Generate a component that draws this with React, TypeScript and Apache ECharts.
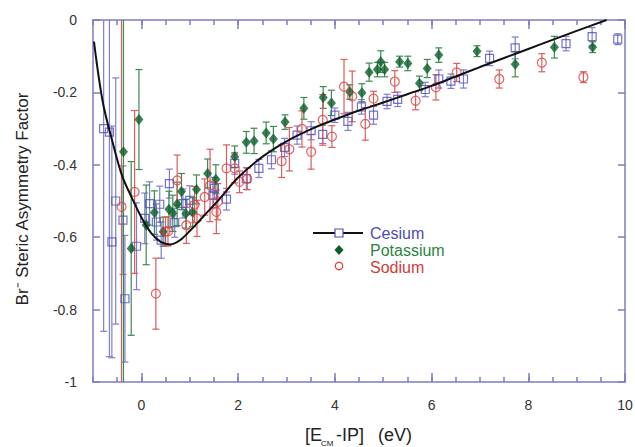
import React, { useEffect, useRef } from "react";
import * as echarts from "echarts";

// ---- data (x, y, error half-width) ----
const cesiumX = [-0.78, -0.66, -0.53, -0.61, -0.38, -0.34, -0.1, 0.07, 0.17, 0.31, 0.38, 0.41, 0.58, 0.69, 0.86, 1.0, 1.48, 1.51, 1.76, 1.93, 2.17, 2.43, 2.69, 2.96, 3.22, 3.51, 3.75, 4.0, 4.27, 4.55, 4.8, 5.08, 5.3, 5.87, 6.15, 6.4, 6.66, 7.2, 7.73, 8.78, 9.32, 9.85];
const cesiumY = [-0.3, -0.31, -0.5, -0.613, -0.553, -0.77, -0.625, -0.548, -0.507, -0.558, -0.509, -0.608, -0.452, -0.56, -0.507, -0.498, -0.484, -0.465, -0.495, -0.396, -0.438, -0.41, -0.386, -0.352, -0.318, -0.306, -0.316, -0.263, -0.28, -0.24, -0.263, -0.225, -0.219, -0.192, -0.163, -0.169, -0.163, -0.106, -0.077, -0.065, -0.046, -0.053];
const cesiumErr = [0.56, 0.62, 0.34, 0.32, 0.15, 0.175, 0.12, 0.07, 0.06, 0.05, 0.05, 0.05, 0.04, 0.04, 0.04, 0.04, 0.035, 0.03, 0.03, 0.03, 0.03, 0.025, 0.025, 0.025, 0.025, 0.025, 0.025, 0.02, 0.025, 0.02, 0.025, 0.02, 0.02, 0.02, 0.025, 0.02, 0.025, 0.02, 0.03, 0.02, 0.025, 0.015];

const potassiumX = [-0.37, -0.21, -0.05, 0.1, 0.27, 0.45, 0.57, 0.65, 0.74, 0.83, 0.92, 1.06, 1.14, 1.37, 1.54, 1.93, 2.17, 2.33, 2.58, 2.73, 2.97, 3.36, 3.76, 3.93, 4.31, 4.56, 4.71, 4.88, 4.95, 5.03, 5.34, 5.51, 5.75, 5.91, 6.15, 6.94, 7.73, 8.54, 9.33];
const potassiumY = [-0.364, -0.631, -0.275, -0.566, -0.532, -0.585, -0.523, -0.534, -0.508, -0.474, -0.535, -0.531, -0.468, -0.424, -0.44, -0.378, -0.338, -0.334, -0.312, -0.329, -0.282, -0.244, -0.214, -0.229, -0.199, -0.201, -0.144, -0.137, -0.115, -0.137, -0.115, -0.12, -0.175, -0.134, -0.097, -0.086, -0.122, -0.075, -0.075];
const potassiumErr = [0.66, 0.24, 0.138, 0.11, 0.06, 0.04, 0.05, 0.05, 0.06, 0.05, 0.04, 0.04, 0.04, 0.04, 0.04, 0.03, 0.03, 0.035, 0.03, 0.035, 0.02, 0.03, 0.03, 0.035, 0.02, 0.025, 0.025, 0.02, 0.03, 0.02, 0.015, 0.02, 0.02, 0.025, 0.02, 0.015, 0.035, 0.03, 0.015];

const sodiumX = [-0.41, -0.14, 0.3, 0.5, 0.55, 0.74, 0.93, 1.1, 1.15, 1.31, 1.42, 1.55, 1.58, 1.76, 1.93, 2.03, 2.19, 2.9, 3.06, 3.32, 3.51, 3.75, 3.94, 4.19, 4.36, 4.63, 4.8, 5.24, 5.67, 6.09, 6.52, 7.4, 8.28, 9.14];
const sodiumY = [-0.516, -0.475, -0.756, -0.584, -0.584, -0.443, -0.567, -0.51, -0.548, -0.489, -0.457, -0.53, -0.502, -0.41, -0.41, -0.447, -0.439, -0.39, -0.357, -0.301, -0.364, -0.276, -0.322, -0.184, -0.211, -0.287, -0.217, -0.17, -0.223, -0.186, -0.145, -0.163, -0.118, -0.158];
const sodiumErr = [0.6, 0.225, 0.098, 0.04, 0.04, 0.07, 0.05, 0.05, 0.05, 0.05, 0.1, 0.06, 0.05, 0.065, 0.04, 0.03, 0.03, 0.045, 0.06, 0.05, 0.048, 0.07, 0.03, 0.075, 0.07, 0.045, 0.02, 0.03, 0.025, 0.035, 0.025, 0.025, 0.025, 0.015];

const curveX = [-0.98, -0.8, -0.6, -0.4, -0.2, 0, 0.2, 0.4, 0.6, 0.8, 1.0, 1.3, 1.6, 2.0, 2.5, 3.0, 3.5, 4.0, 4.5, 5.0, 5.5, 6.0, 6.5, 7.0, 7.5, 8.0, 8.5, 9.0, 9.62];
const curveY = [-0.06, -0.225, -0.335, -0.43, -0.49, -0.545, -0.588, -0.613, -0.62, -0.608, -0.583, -0.54, -0.497, -0.435, -0.378, -0.335, -0.302, -0.275, -0.25, -0.228, -0.205, -0.182, -0.156, -0.13, -0.105, -0.08, -0.055, -0.03, 0.0];

const xMajorTicks = [0, 2, 4, 6, 8, 10];
const seriesNames = ["Cesium", "Potassium", "Sodium"];

const FONT = "'Liberation Sans', Arial, Helvetica, sans-serif";
const AXIS_COLOR = "#7c7cc6";
const Y_MIN = -1;
const Y_MAX = 0;

const zip3 = (xs: number[], ys: number[], es: number[]) => xs.map((x, i) => [x, ys[i], es[i]]);

function errorBarSeries(name: string, data: number[][], color: string) {
  return {
    type: "custom",
    name: name + " error",
    xAxisIndex: 0,
    yAxisIndex: 0,
    encode: { x: 0, y: 1 },
    data,
    silent: true,
    renderItem: (params: any, api: any) => {
      const x = api.value(0);
      const y = api.value(1);
      const e = api.value(2);
      const hiRaw = y + e;
      const loRaw = y - e;
      const hi = Math.min(hiRaw, Y_MAX);
      const lo = Math.max(loRaw, Y_MIN);
      const pHi = api.coord([x, hi]);
      const pLo = api.coord([x, lo]);
      const cap = 3.5;
      const style = { stroke: color, lineWidth: 1.2 };
      const children: any[] = [
        { type: "line", shape: { x1: pHi[0], y1: pHi[1], x2: pLo[0], y2: pLo[1] }, style },
      ];
      if (hiRaw <= Y_MAX) {
        children.push({ type: "line", shape: { x1: pHi[0] - cap, y1: pHi[1], x2: pHi[0] + cap, y2: pHi[1] }, style });
      }
      if (loRaw >= Y_MIN) {
        children.push({ type: "line", shape: { x1: pLo[0] - cap, y1: pLo[1], x2: pLo[0] + cap, y2: pLo[1] }, style });
      }
      return { type: "group", children };
    },
    z: 2,
  };
}

export default function App() {
  const ref = useRef<HTMLDivElement>(null);
  useEffect(() => {
    if (!ref.current) return;
    const chart = echarts.init(ref.current, null, { renderer: "svg" });

    const axisLineOn = { show: true, onZero: false, lineStyle: { color: AXIS_COLOR, width: 1.5 } };
    const axisLineOff = { show: false, onZero: false };
    const baseX = { type: "value", min: -1, max: 10, interval: 0.5, splitLine: { show: false } };
    const option: any = {
      animation: false,
      backgroundColor: "#ffffff",
      textStyle: { fontFamily: FONT },
      grid: { left: 93, right: 10, top: 20, bottom: 65, containLabel: false, outerBoundsMode: "none" },
      xAxis: [
        {
          ...baseX,
          position: "bottom",
          axisLine: axisLineOn,
          axisTick: { show: true, inside: true, length: 9, customValues: xMajorTicks, lineStyle: { color: AXIS_COLOR, width: 1.5 } },
          axisLabel: { show: true, customValues: xMajorTicks, margin: 16, color: "#333", fontSize: 14, fontFamily: FONT, showMaxLabel: true },
        },
        {
          ...baseX,
          position: "bottom",
          axisLine: axisLineOff,
          axisTick: { show: true, inside: true, length: 5, lineStyle: { color: AXIS_COLOR, width: 1.5 } },
          axisLabel: { show: false },
        },
        {
          ...baseX,
          position: "top",
          axisLine: axisLineOn,
          axisTick: { show: true, inside: true, length: 9, customValues: xMajorTicks, lineStyle: { color: AXIS_COLOR, width: 1.5 } },
          axisLabel: { show: false },
        },
        {
          ...baseX,
          position: "top",
          axisLine: axisLineOff,
          axisTick: { show: true, inside: true, length: 5, lineStyle: { color: AXIS_COLOR, width: 1.5 } },
          axisLabel: { show: false },
        },
      ],
      yAxis: [
        {
          type: "value",
          min: Y_MIN,
          max: Y_MAX,
          interval: 0.2,
          position: "left",
          splitLine: { show: false },
          axisLine: axisLineOn,
          axisTick: { show: true, inside: true, length: 7, lineStyle: { color: AXIS_COLOR, width: 1.5 } },
          axisLabel: {
            margin: 16,
            color: "#333",
            fontSize: 14,
            fontFamily: FONT,
            formatter: (v: number) => (Math.abs(v) < 1e-9 ? "0" : Math.abs(v + 1) < 1e-9 ? "-1" : v.toFixed(1)),
          },
        },
        {
          type: "value",
          min: Y_MIN,
          max: Y_MAX,
          interval: 0.2,
          position: "right",
          splitLine: { show: false },
          axisLine: axisLineOn,
          axisTick: { show: true, inside: true, length: 7, lineStyle: { color: AXIS_COLOR, width: 1.5 } },
          axisLabel: { show: false },
        },
      ],
      series: [
        errorBarSeries(seriesNames[0], zip3(cesiumX, cesiumY, cesiumErr), "#7f7fcf"),
        {
          type: "scatter",
          name: seriesNames[0],
          data: cesiumX.map((x, i) => [x, cesiumY[i]]),
          symbol: "rect",
          symbolSize: 8,
          itemStyle: { color: "rgba(255,255,255,0)", borderColor: "#4f4fbf", borderWidth: 1.2 },
          z: 3,
        },
        errorBarSeries(seriesNames[1], zip3(potassiumX, potassiumY, potassiumErr), "#3a8c4e"),
        {
          type: "scatter",
          name: seriesNames[1],
          data: potassiumX.map((x, i) => [x, potassiumY[i]]),
          symbol: "diamond",
          symbolSize: [9, 11],
          itemStyle: { color: "#0b5e2a" },
          z: 4,
        },
        errorBarSeries(seriesNames[2], zip3(sodiumX, sodiumY, sodiumErr), "#dd5c5c"),
        {
          type: "scatter",
          name: seriesNames[2],
          data: sodiumX.map((x, i) => [x, sodiumY[i]]),
          symbol: "circle",
          symbolSize: 9,
          itemStyle: { color: "rgba(255,255,255,0)", borderColor: "#d94040", borderWidth: 1.2 },
          z: 5,
        },
        {
          type: "line",
          name: "fit",
          data: curveX.map((x, i) => [x, curveY[i]]),
          smooth: 0.35,
          showSymbol: false,
          symbol: "none",
          lineStyle: { color: "#111", width: 2 },
          z: 6,
        },
      ],
      graphic: [
        // legend
        { type: "line", shape: { x1: 313, y1: 233, x2: 363, y2: 233 }, style: { stroke: "#111", lineWidth: 2 }, z: 10 },
        { type: "rect", shape: { x: 335, y: 229, width: 8, height: 8 }, style: { fill: "#fff", stroke: "#4f4fbf", lineWidth: 1.2 }, z: 11 },
        { type: "polygon", shape: { points: [[339, 245], [343.5, 250], [339, 255], [334.5, 250]] }, style: { fill: "#0b5e2a" }, z: 11 },
        { type: "circle", shape: { cx: 339, cy: 266, r: 3.8 }, style: { fill: "#fff", stroke: "#d94040", lineWidth: 1.2 }, z: 11 },
        { type: "text", x: 370, y: 233, style: { text: "Cesium", fill: "#4b4bb8", font: `16px ${FONT}`, textVerticalAlign: "middle" }, z: 11 },
        { type: "text", x: 370, y: 250, style: { text: "Potassium", fill: "#2b8540", font: `16px ${FONT}`, textVerticalAlign: "middle" }, z: 11 },
        { type: "text", x: 370, y: 267, style: { text: "Sodium", fill: "#d33a3a", font: `16px ${FONT}`, textVerticalAlign: "middle" }, z: 11 },
        // y axis name
        {
          type: "text",
          x: 22,
          y: 199,
          rotation: Math.PI / 2,
          style: { text: "Br\u207B Steric Asymmetry Factor", fill: "#222", font: `17px ${FONT}`, textAlign: "center", textVerticalAlign: "middle" },
        },
        // x axis name
        { type: "text", x: 305, y: 435, style: { text: "[E", fill: "#222", font: `18px ${FONT}`, textVerticalAlign: "middle" } },
        { type: "text", x: 321, y: 443, style: { text: "CM", fill: "#222", font: `8px ${FONT}`, textVerticalAlign: "middle" } },
        { type: "text", x: 336, y: 435, style: { text: "-IP]", fill: "#222", font: `18px ${FONT}`, textVerticalAlign: "middle" } },
        { type: "text", x: 378, y: 435, style: { text: "(eV)", fill: "#222", font: `18px ${FONT}`, textVerticalAlign: "middle" } },
      ],
    };
    chart.setOption(option);
    return () => chart.dispose();
  }, []);

  return <div ref={ref} style={{ position: "fixed", left: 0, top: 0, width: 635, height: 447 }} />;
}
